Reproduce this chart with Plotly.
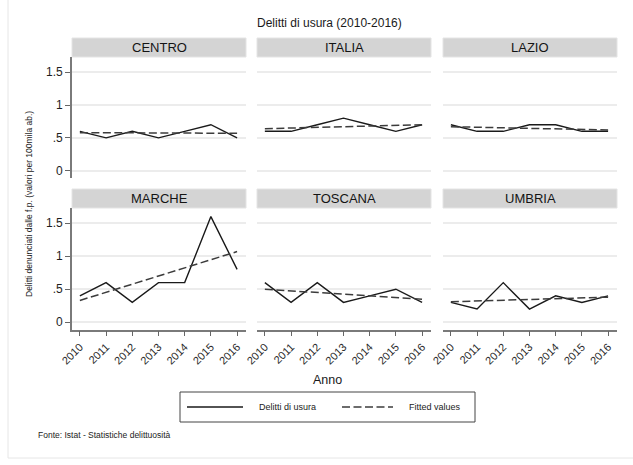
import plotly.graph_objects as go

W, H = 633, 465

years = [2010, 2011, 2012, 2013, 2014, 2015, 2016]
year_labels = ["2010", "2011", "2012", "2013", "2014", "2015", "2016"]

regions = ["CENTRO", "ITALIA", "LAZIO", "MARCHE", "TOSCANA", "UMBRIA"]
centro = [0.6, 0.5, 0.6, 0.5, 0.6, 0.7, 0.5]
italia = [0.6, 0.6, 0.7, 0.8, 0.7, 0.6, 0.7]
lazio = [0.7, 0.6, 0.6, 0.7, 0.7, 0.6, 0.6]
marche = [0.4, 0.6, 0.3, 0.6, 0.6, 1.6, 0.8]
toscana = [0.6, 0.3, 0.6, 0.3, 0.4, 0.5, 0.3]
umbria = [0.3, 0.2, 0.6, 0.2, 0.4, 0.3, 0.4]
values = [centro, italia, lazio, marche, toscana, umbria]

# fitted (linear) values at start and end years
fit_start = [0.58, 0.64, 0.67, 0.33, 0.50, 0.31]
fit_end = [0.57, 0.70, 0.62, 1.07, 0.35, 0.38]

ytick_vals = [0, 0.5, 1, 1.5]
ytick_text = ["0", ".5", "1", "1.5"]

title = "Delitti di usura (2010-2016)"
ytitle = "Delitti denunciati dalle f.p. (valori per 100mila ab.)"
xtitle = "Anno"
source = "Fonte: Istat - Statistiche delittuosità"
legend_names = ["Delitti di usura", "Fitted values"]

FONT = "Liberation Sans, Arial, Helvetica, sans-serif"
FIT_DASH = "8px,3.5px"

def px_x(p):
    return p / W

def px_y(p):
    return 1 - p / H

cols = [(72, 246), (257, 431), (443, 617)]
rows = [(57, 178), (208, 329.5)]
strips = [(38, 57), (189, 208)]

fig = go.Figure()
layout = {}
shapes = []
annotations = []

for i, name in enumerate(regions):
    r, c = divmod(i, 3)
    idx = i + 1
    xa = "x" if idx == 1 else f"x{idx}"
    ya = "y" if idx == 1 else f"y{idx}"
    fig.add_trace(go.Scatter(
        x=years, y=values[i], mode="lines", xaxis=xa, yaxis=ya,
        line=dict(color="#1a1a1a", width=1.4), showlegend=False,
        name=legend_names[0]))
    fig.add_trace(go.Scatter(
        x=[years[0], years[-1]], y=[fit_start[i], fit_end[i]], mode="lines",
        xaxis=xa, yaxis=ya,
        line=dict(color="#3c3c3c", width=1.5, dash=FIT_DASH), showlegend=False,
        name=legend_names[1]))
    x0, x1 = cols[c]
    y0, y1 = rows[r]
    bottom = r == 1
    left = c == 0
    layout["xaxis" if idx == 1 else f"xaxis{idx}"] = dict(
        domain=[px_x(x0), px_x(x1)], anchor=ya, range=[2009.7, 2016.34],
        tickvals=years, ticktext=year_labels, showticklabels=bottom,
        tickangle=-45, ticks="outside" if bottom else "", ticklen=5,
        tickcolor="#666", tickwidth=1.1, showline=bottom, linecolor="#7a7a7a",
        linewidth=1.6, showgrid=False, zeroline=False, automargin=False,
        tickfont=dict(size=11, color="#2a2a2a", family=FONT), fixedrange=True)
    layout["yaxis" if idx == 1 else f"yaxis{idx}"] = dict(
        domain=[px_y(y1), px_y(y0)], anchor=xa, range=[-0.11, 1.73],
        tickvals=ytick_vals, ticktext=ytick_text, showticklabels=left,
        ticks="outside" if left else "", ticklen=5, tickcolor="#666",
        tickwidth=1.1, showline=left, linecolor="#7a7a7a", linewidth=1.6,
        showgrid=True, gridcolor="#ececec", gridwidth=1.6, zeroline=False,
        automargin=False,
        tickfont=dict(size=12, color="#1e1e1e", family=FONT), fixedrange=True)
    sy0, sy1 = strips[r]
    shapes.append(dict(type="rect", xref="paper", yref="paper",
                       x0=px_x(x0), x1=px_x(x1), y0=px_y(sy1), y1=px_y(sy0),
                       fillcolor="#d4d4d4", line=dict(color="#e4e4e4", width=1)))
    annotations.append(dict(text=name, xref="paper", yref="paper",
                            x=px_x((x0 + x1) / 2), y=px_y((sy0 + sy1) / 2),
                            xanchor="center", yanchor="middle", showarrow=False,
                            font=dict(size=13, color="#141414", family=FONT)))

# outer frame
shapes.append(dict(type="rect", xref="paper", yref="paper",
                   x0=px_x(8), x1=px_x(645), y0=px_y(458), y1=px_y(-5),
                   line=dict(color="#e6e6e6", width=1), fillcolor="rgba(0,0,0,0)"))

# title & axis titles
annotations.append(dict(text=title, xref="paper", yref="paper", x=px_x(329), y=px_y(23),
                        xanchor="center", yanchor="middle", showarrow=False,
                        font=dict(size=12, color="#1a1a1a", family=FONT)))
annotations.append(dict(text=xtitle, xref="paper", yref="paper", x=px_x(328), y=px_y(380),
                        xanchor="center", yanchor="middle", showarrow=False,
                        font=dict(size=12.5, color="#1a1a1a", family=FONT)))
annotations.append(dict(text=ytitle, xref="paper", yref="paper", x=px_x(29), y=px_y(204),
                        xanchor="center", yanchor="middle", showarrow=False, textangle=-90,
                        font=dict(size=8.5, color="#222", family=FONT)))
annotations.append(dict(text=source, xref="paper", yref="paper", x=px_x(36), y=px_y(435),
                        xanchor="left", yanchor="middle", showarrow=False,
                        font=dict(size=8.5, color="#222", family=FONT)))

# legend box (drawn manually to match Stata layout)
shapes.append(dict(type="rect", xref="paper", yref="paper",
                   x0=px_x(180), x1=px_x(475), y0=px_y(422), y1=px_y(392),
                   line=dict(color="#444", width=1), fillcolor="white"))
shapes.append(dict(type="line", xref="paper", yref="paper",
                   x0=px_x(187), x1=px_x(243), y0=px_y(407), y1=px_y(407),
                   line=dict(color="#1a1a1a", width=1.4)))
shapes.append(dict(type="line", xref="paper", yref="paper",
                   x0=px_x(342), x1=px_x(393), y0=px_y(407), y1=px_y(407),
                   line=dict(color="#3c3c3c", width=1.5, dash=FIT_DASH)))
annotations.append(dict(text=legend_names[0], xref="paper", yref="paper", x=px_x(257), y=px_y(407),
                        xanchor="left", yanchor="middle", showarrow=False,
                        font=dict(size=9, color="#222", family=FONT)))
annotations.append(dict(text=legend_names[1], xref="paper", yref="paper", x=px_x(407), y=px_y(407),
                        xanchor="left", yanchor="middle", showarrow=False,
                        font=dict(size=9, color="#222", family=FONT)))

fig.update_layout(
    width=W, height=H, margin=dict(l=0, r=0, t=0, b=0, autoexpand=False),
    paper_bgcolor="white", plot_bgcolor="white",
    shapes=shapes, annotations=annotations, showlegend=False,
    **layout)

fig.write_html("out.html", config={"displayModeBar": False},
               post_script="document.body.style.margin='0';document.body.style.overflow='hidden';")
